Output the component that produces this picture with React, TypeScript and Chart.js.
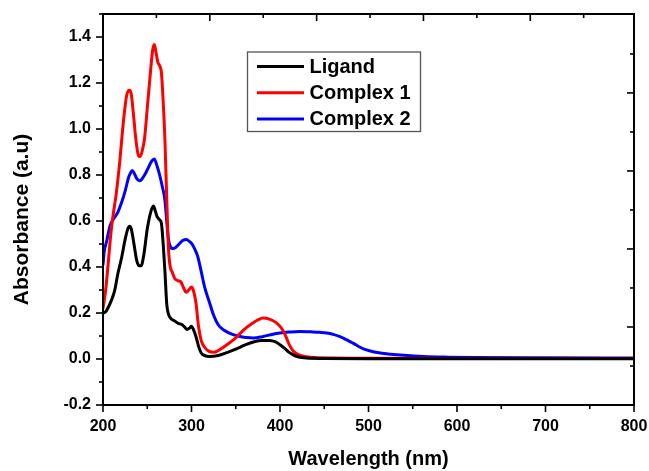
import React, { useEffect, useRef } from "react";
import { Chart, registerables } from "chart.js";

Chart.register(...registerables);

// ---- data ----
const ligandWl = [200, 203, 206, 210, 213, 217, 221, 225, 228, 230, 232, 235, 238, 241, 243, 246, 250, 254, 257, 259, 261, 264, 266, 268, 270, 272, 274, 277, 281, 285, 289, 292, 295, 298, 300, 302, 305, 308, 311, 315, 320, 330, 340, 350, 360, 370, 380, 388, 395, 400, 405, 410, 415, 420, 430, 450, 500, 600, 800];
const ligandAbs = [0.2, 0.205, 0.225, 0.26, 0.295, 0.375, 0.44, 0.52, 0.565, 0.577, 0.565, 0.5, 0.43, 0.405, 0.405, 0.45, 0.565, 0.64, 0.665, 0.645, 0.62, 0.605, 0.59, 0.5, 0.38, 0.24, 0.195, 0.175, 0.165, 0.155, 0.15, 0.14, 0.128, 0.135, 0.142, 0.13, 0.098, 0.055, 0.026, 0.015, 0.011, 0.015, 0.028, 0.043, 0.06, 0.074, 0.08, 0.08, 0.074, 0.062, 0.047, 0.03, 0.018, 0.01, 0.004, 0.002, 0.001, 0.001, 0.001];

const complex1Wl = [200, 203, 206, 209, 212, 215, 219, 222, 225, 227, 230, 232, 234, 237, 240, 242, 244, 247, 250, 253, 256, 258, 260, 262, 264, 266, 268, 270, 272, 274, 276, 278, 281, 285, 288, 291, 294, 297, 300, 302, 305, 308, 311, 315, 320, 325, 330, 340, 350, 360, 370, 375, 381, 388, 396, 400, 404, 408, 411, 415, 420, 430, 440, 460, 500, 600, 800];
const complex1Abs = [0.22, 0.3, 0.42, 0.55, 0.64, 0.72, 0.86, 0.99, 1.1, 1.15, 1.168, 1.15, 1.08, 0.96, 0.885, 0.88, 0.9, 0.96, 1.09, 1.22, 1.34, 1.367, 1.33, 1.29, 1.275, 1.245, 1.12, 0.95, 0.7, 0.48, 0.4, 0.38, 0.35, 0.34, 0.335, 0.31, 0.29, 0.3, 0.313, 0.3, 0.245, 0.14, 0.08, 0.05, 0.033, 0.029, 0.036, 0.062, 0.092, 0.13, 0.158, 0.17, 0.178, 0.173, 0.157, 0.142, 0.12, 0.085, 0.058, 0.035, 0.02, 0.01, 0.006, 0.004, 0.003, 0.002, 0.002];

const complex2Wl = [200, 201.5, 204, 208, 213, 217, 221, 225, 229, 231, 233, 235, 238, 241, 243, 247, 251, 255, 258, 261, 264, 267, 270, 272, 274, 276, 279, 282, 286, 290, 294, 298, 301, 304, 307, 311, 315, 320, 325, 330, 335, 340, 347, 355, 362, 370, 380, 392, 400, 410, 422, 435, 445, 453, 460, 467, 472, 478, 483, 490, 495, 502, 510, 525, 540, 562, 590, 620, 700, 800];
const complex2Abs = [0.41, 0.47, 0.51, 0.58, 0.615, 0.64, 0.68, 0.73, 0.79, 0.808, 0.82, 0.81, 0.785, 0.775, 0.778, 0.8, 0.83, 0.86, 0.87, 0.84, 0.8, 0.75, 0.69, 0.6, 0.52, 0.49, 0.48, 0.485, 0.5, 0.515, 0.52, 0.51, 0.497, 0.475, 0.446, 0.38, 0.31, 0.25, 0.19, 0.15, 0.13, 0.118, 0.106, 0.098, 0.093, 0.091, 0.097, 0.108, 0.113, 0.117, 0.12, 0.118, 0.116, 0.113, 0.107, 0.098, 0.09, 0.078, 0.068, 0.052, 0.043, 0.035, 0.028, 0.021, 0.016, 0.011, 0.008, 0.006, 0.005, 0.004];

const seriesLabels = ["Ligand", "Complex 1", "Complex 2"];
const seriesColors = ["#000000", "#ff0000", "#0000ff"];

const xMin = 200;
const xMax = 800;
const xStep = 100;
const yMin = -0.2;
const yMax = 1.5;
const yStep = 0.2;
const xTitle = "Wavelength (nm)";
const yTitle = "Absorbance (a.u)";
// mirrored top / right axes carry their own (unlabelled) tick spacing
const topTickStep = 60.35;
const rightTickStep = 0.1696;

const FONT = "'Liberation Sans', Arial, Helvetica, sans-serif";

const toPoints = (wl: number[], ab: number[]) => wl.map((w, i) => ({ x: w, y: ab[i] }));

const framePlugin = {
  id: "frameAndLegend",
  afterDraw(chart: any) {
    const { ctx, chartArea: a, scales } = chart;
    const xs = scales.x;
    const ys = scales.y;
    ctx.save();
    ctx.strokeStyle = "#000";
    ctx.lineWidth = 2;
    ctx.lineCap = "butt";
    ctx.strokeRect(a.left, a.top, a.right - a.left, a.bottom - a.top);

    const line = (x1: number, y1: number, x2: number, y2: number) => {
      ctx.beginPath();
      ctx.moveTo(x1, y1);
      ctx.lineTo(x2, y2);
      ctx.stroke();
    };
    ctx.lineWidth = 1.6;
    // bottom ticks (outward), major every 100, minor every 50
    for (let i = 0; xMin + (i * xStep) / 2 <= xMax + 1e-9; i++) {
      const v = xMin + (i * xStep) / 2;
      const px = xs.getPixelForValue(v);
      line(px, a.bottom, px, a.bottom + (i % 2 === 0 ? 7 : 4));
    }
    // left ticks (outward), major every 0.2, minor every 0.1
    for (let i = 0; yMin + (i * yStep) / 2 <= yMax + 1e-9; i++) {
      const v = yMin + (i * yStep) / 2;
      const py = ys.getPixelForValue(v);
      line(a.left, py, a.left - (i % 2 === 0 ? 7 : 4), py);
    }
    // top ticks (inward)
    for (let i = 1; xMin + i * topTickStep < xMax - 1; i++) {
      const px = xs.getPixelForValue(xMin + i * topTickStep);
      line(px, a.top, px, a.top + (i % 2 === 0 ? 7 : 4));
    }
    // right ticks (inward)
    for (let i = 1; yMin + i * rightTickStep < yMax - 0.01; i++) {
      const py = ys.getPixelForValue(yMin + i * rightTickStep);
      line(a.right, py, a.right - (i % 2 === 0 ? 7 : 4), py);
    }

    // y title
    ctx.fillStyle = "#000";
    ctx.font = `bold 21px ${FONT}`;
    ctx.textAlign = "center";
    ctx.textBaseline = "middle";
    ctx.save();
    ctx.translate(22, (a.top + a.bottom) / 2 + 10);
    ctx.rotate(-Math.PI / 2);
    ctx.fillText(yTitle, 0, 0);
    ctx.restore();

    // legend
    const bx = a.left + 144.5;
    const by = a.top + 38;
    const bw = 173;
    const bh = 79.5;
    ctx.fillStyle = "#fff";
    ctx.fillRect(bx, by, bw, bh);
    ctx.strokeStyle = "#555";
    ctx.lineWidth = 1.3;
    ctx.strokeRect(bx, by, bw, bh);
    ctx.font = `bold 20px ${FONT}`;
    ctx.textAlign = "left";
    ctx.textBaseline = "middle";
    chart.data.datasets.forEach((ds: any, i: number) => {
      const ry = by + 14.5 + i * 26.2;
      ctx.strokeStyle = ds.borderColor;
      ctx.lineWidth = 3;
      line(bx + 9.5, ry, bx + 56.5, ry);
      ctx.fillStyle = "#000";
      ctx.fillText(ds.label, bx + 62, ry + 1);
    });
    ctx.restore();
  },
};

export default function App() {
  const ref = useRef<HTMLCanvasElement | null>(null);
  useEffect(() => {
    if (!ref.current) return;
    const seriesData = [
      toPoints(ligandWl, ligandAbs),
      toPoints(complex1Wl, complex1Abs),
      toPoints(complex2Wl, complex2Abs),
    ];
    const chart = new Chart(ref.current, {
      type: "line",
      data: {
        datasets: seriesData.map((d, i) => ({
          label: seriesLabels[i],
          data: d,
          borderColor: seriesColors[i],
          backgroundColor: seriesColors[i],
          borderWidth: 3,
          pointRadius: 0,
          fill: false,
          cubicInterpolationMode: "monotone" as const,
          borderJoinStyle: "round" as const,
          borderCapStyle: "round" as const,
        })),
      },
      options: {
        animation: false,
        responsive: false,
        devicePixelRatio: 1,
        layout: { padding: { top: 14, right: 15, left: 0, bottom: 0 } },
        plugins: { legend: { display: false }, tooltip: { enabled: false }, title: { display: false } },
        scales: {
          x: {
            type: "linear",
            min: xMin,
            max: xMax,
            grid: { display: false, drawTicks: false, tickLength: 0 },
            border: { display: false },
            ticks: {
              stepSize: xStep,
              padding: 12,
              color: "#000",
              font: { family: FONT, size: 16, weight: "bold" },
              maxRotation: 0,
            },
            title: {
              display: true,
              text: xTitle,
              color: "#000",
              font: { family: FONT, size: 20, weight: "bold" },
              padding: { top: 0, bottom: 0 },
            },
            afterFit: (s: any) => {
              s.height = 66;
              s.paddingLeft = 0;
              s.paddingRight = 0;
            },
          },
          y: {
            type: "linear",
            min: yMin,
            max: yMax,
            grid: { display: false, drawTicks: false, tickLength: 0 },
            border: { display: false },
            ticks: {
              stepSize: yStep,
              includeBounds: false,
              padding: 12,
              color: "#000",
              font: { family: FONT, size: 16, weight: "bold" },
              callback: (v: any) => Number(v).toFixed(1),
            },
            afterFit: (s: any) => {
              s.width = 103;
              s.paddingTop = 0;
              s.paddingBottom = 0;
            },
          },
        },
      },
      plugins: [framePlugin],
    });
    return () => chart.destroy();
  }, []);
  return (
    <canvas
      ref={ref}
      width={649}
      height={471}
      style={{ position: "absolute", left: 0, top: 0, width: 649, height: 471 }}
    />
  );
}
